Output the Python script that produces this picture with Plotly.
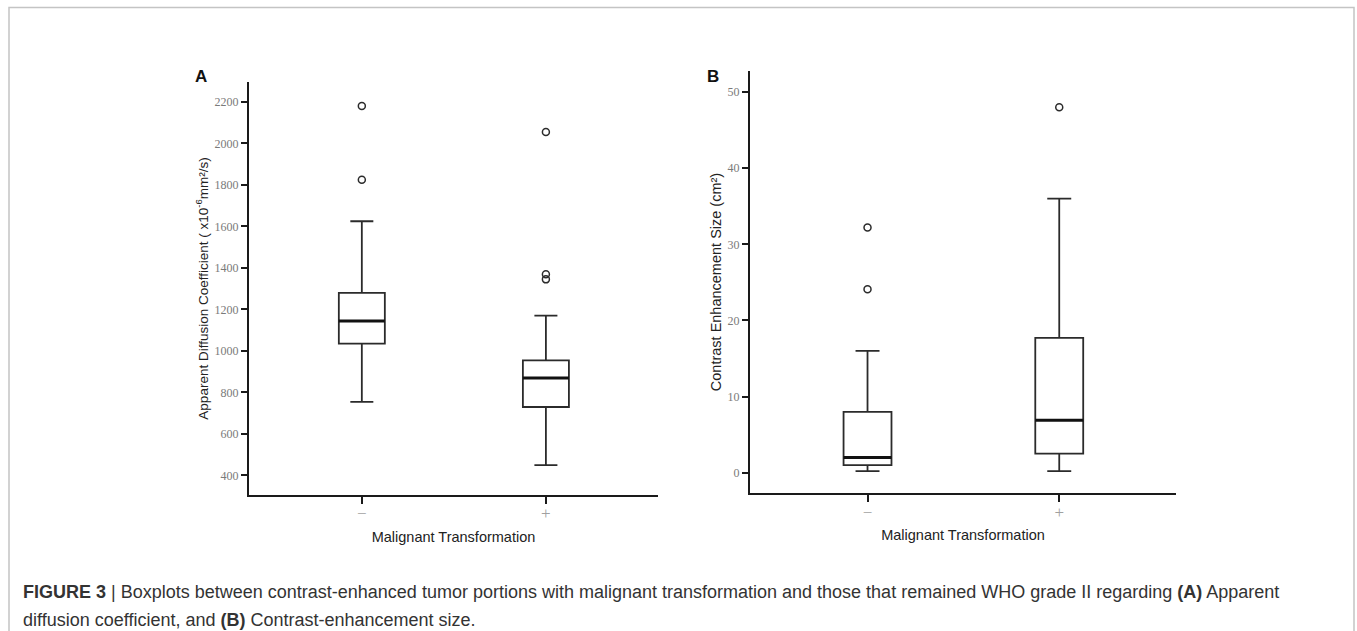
import plotly.graph_objects as go

# ---------------- data ----------------
groups = ["−", "+"]          # Malignant transformation: no / yes

# Panel A: Apparent diffusion coefficient
adc_lower = [755, 450]
adc_q1 = [1035, 730]
adc_median = [1145, 870]
adc_q3 = [1280, 955]
adc_upper = [1625, 1170]
adc_outliers = [[2180, 1825], [2055, 1370, 1345]]
adc_ticks = [400, 600, 800, 1000, 1200, 1400, 1600, 1800, 2000, 2200]

# Panel B: Contrast enhancement size
ce_lower = [0.2, 0.2]
ce_q1 = [1.0, 2.5]
ce_median = [2.0, 6.9]
ce_q3 = [8.0, 17.7]
ce_upper = [16.0, 36.0]
ce_outliers = [[32.2, 24.1], [48.0]]
ce_ticks = [0, 10, 20, 30, 40, 50]

caption_1 = ("<b>FIGURE 3</b> | Boxplots between contrast-enhanced tumor portions with malignant "
             "transformation and those that remained WHO grade II regarding <b>(A)</b> Apparent")
caption_2 = "diffusion coefficient, and <b>(B)</b> Contrast-enhancement size."

# ---------------- styling ----------------
W, H = 1357, 631
BOX_W = 0.25
LINE = "#2b2b2b"
pos = list(range(len(groups)))

fig = go.Figure()


def add_panel(xa, ya, lower, q1, med, q3, upper, outliers):
    fig.add_trace(go.Box(
        x=pos, lowerfence=lower, q1=q1, median=med, q3=q3, upperfence=upper,
        width=BOX_W, whiskerwidth=0.5, fillcolor="rgba(0,0,0,0)",
        line=dict(color=LINE, width=1.8), boxpoints=False,
        xaxis=xa, yaxis=ya, showlegend=False, hoverinfo="skip"))
    # thick median lines
    for i, m in enumerate(med):
        fig.add_trace(go.Scatter(
            x=[pos[i] - BOX_W / 2, pos[i] + BOX_W / 2], y=[m, m], mode="lines",
            line=dict(color="#111", width=3), xaxis=xa, yaxis=ya,
            showlegend=False, hoverinfo="skip"))
    # outliers
    ox, oy = [], []
    for i, vals in enumerate(outliers):
        for v in vals:
            ox.append(pos[i])
            oy.append(v)
    fig.add_trace(go.Scatter(
        x=ox, y=oy, mode="markers",
        marker=dict(symbol="circle-open", size=7, color=LINE, line=dict(width=1.5)),
        xaxis=xa, yaxis=ya, showlegend=False, hoverinfo="skip"))


add_panel("x", "y", adc_lower, adc_q1, adc_median, adc_q3, adc_upper, adc_outliers)
add_panel("x2", "y2", ce_lower, ce_q1, ce_median, ce_q3, ce_upper, ce_outliers)

xr = [-0.613, 1.609]
SERIF = "Liberation Serif, Times New Roman, DejaVu Serif, serif"
SANS = "Liberation Sans, Arial, sans-serif"

xcommon = dict(range=xr, tickvals=pos, ticktext=groups, showline=True, linecolor="#1a1a1a",
               linewidth=2, ticks="outside", ticklen=7, tickwidth=2, tickcolor="#1a1a1a",
               tickfont=dict(family=SERIF, size=17, color="#a0a0a0"),
               ticklabelstandoff=-5,
               showgrid=False, zeroline=False, mirror=False,
               title=dict(text="Malignant Transformation", standoff=9,
                          font=dict(family=SANS, size=14.5, color="#222")))
ycommon = dict(showline=True, linecolor="#1a1a1a", linewidth=2, ticks="outside", ticklen=6,
               tickwidth=1.5, tickcolor="#1a1a1a",
               tickfont=dict(family=SERIF, size=12, color="#7a7a7a"),
               showgrid=False, zeroline=False)

fig.update_layout(
    width=W, height=H, margin=dict(l=0, r=0, t=0, b=0),
    paper_bgcolor="white", plot_bgcolor="white",
    xaxis=dict(domain=[249 / W, 658 / W], anchor="y", **xcommon),
    yaxis=dict(domain=[1 - 495 / H, 1 - 82 / H], anchor="x", range=[306, 2296],
               tickvals=adc_ticks,
               title=dict(text="Apparent Diffusion Coefficient ( x10<sup>-6</sup>mm²/s)", standoff=3,
                          font=dict(family=SANS, size=13.5, color="#222")),
               **ycommon),
    xaxis2=dict(domain=[750 / W, 1176 / W], anchor="y2", **xcommon),
    yaxis2=dict(domain=[1 - 493.3 / H, 1 - 70.7 / H], anchor="x2", range=[-2.7, 52.8],
                tickvals=ce_ticks,
                title=dict(text="Contrast Enhancement Size (cm²)", standoff=3,
                           font=dict(family=SANS, size=14.5, color="#222")),
                **ycommon),
)

# panel letters
fig.add_annotation(text="<b>A</b>", x=193 / W, y=1 - 65 / H, xref="paper", yref="paper",
                   showarrow=False, font=dict(family=SANS, size=17, color="#111"))
fig.add_annotation(text="<b>B</b>", x=713 / W, y=1 - 65 / H, xref="paper", yref="paper",
                   showarrow=False, font=dict(family=SANS, size=17, color="#111"))

# caption
cap_font = dict(family=SANS, size=18, color="#333")
fig.add_annotation(text=caption_1, x=21 / W, y=1 - 592 / H, xref="paper", yref="paper",
                   xanchor="left", yanchor="middle", showarrow=False, font=cap_font)
fig.add_annotation(text=caption_2, x=21 / W, y=1 - 620 / H, xref="paper", yref="paper",
                   xanchor="left", yanchor="middle", showarrow=False, font=cap_font)

# outer frame
fig.add_shape(type="rect", xref="paper", yref="paper", x0=9 / W, x1=1354 / W,
              y0=-0.2, y1=1 - 7.5 / H, line=dict(color="#c4c4c4", width=1.5),
              fillcolor="rgba(0,0,0,0)", layer="below")

fig.write_html("out.html")
